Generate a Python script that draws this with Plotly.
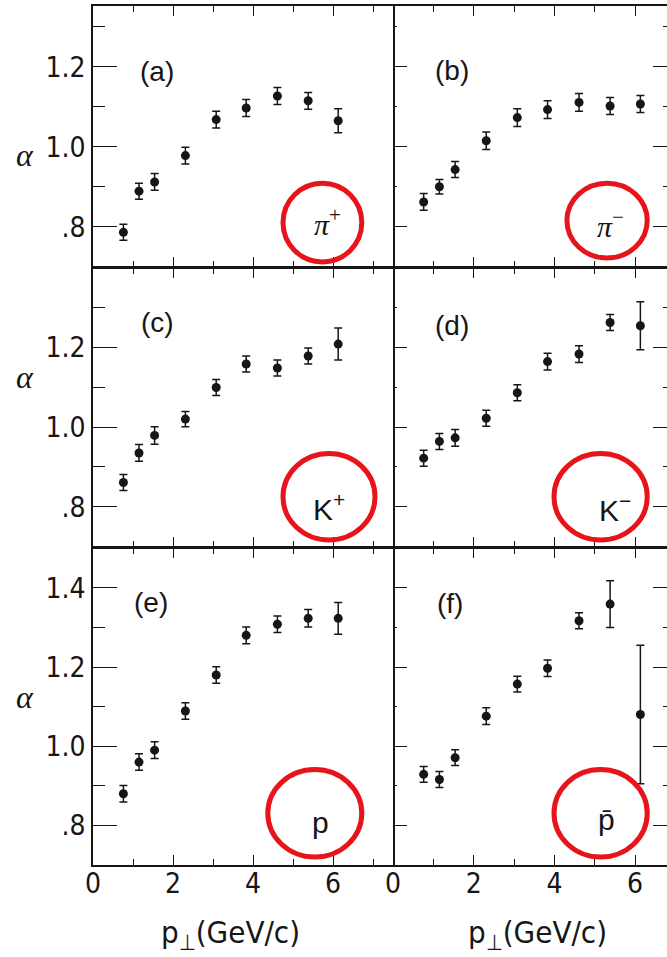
import plotly.graph_objects as go

# ---------------- data ----------------
pt = [0.76, 1.15, 1.54, 2.31, 3.08, 3.83, 4.61, 5.38, 6.13]

alpha_pip = [0.786, 0.889, 0.912, 0.978, 1.068, 1.097, 1.127, 1.115, 1.065]
err_pip = [0.020, 0.020, 0.021, 0.021, 0.021, 0.021, 0.021, 0.021, 0.030]

alpha_pim = [0.862, 0.900, 0.943, 1.015, 1.073, 1.093, 1.111, 1.102, 1.107]
err_pim = [0.021, 0.018, 0.020, 0.022, 0.022, 0.022, 0.022, 0.021, 0.021]

alpha_kp = [0.861, 0.935, 0.979, 1.020, 1.099, 1.158, 1.148, 1.178, 1.208]
err_kp = [0.020, 0.021, 0.022, 0.019, 0.020, 0.020, 0.020, 0.020, 0.040]

alpha_km = [0.922, 0.964, 0.973, 1.022, 1.086, 1.164, 1.183, 1.262, 1.254]
err_km = [0.020, 0.020, 0.021, 0.020, 0.020, 0.021, 0.021, 0.020, 0.060]

alpha_p = [0.880, 0.960, 0.990, 1.089, 1.180, 1.280, 1.308, 1.323, 1.323]
err_p = [0.021, 0.021, 0.021, 0.021, 0.021, 0.021, 0.021, 0.022, 0.040]

alpha_pbar = [0.929, 0.916, 0.971, 1.076, 1.157, 1.197, 1.317, 1.359, 1.080]
err_pbar = [0.020, 0.020, 0.020, 0.021, 0.020, 0.021, 0.020, 0.059, 0.175]

panel_letters = ["(a)", "(b)", "(c)", "(d)", "(e)", "(f)"]
particle_labels = ["<i>π</i><sup>+</sup>", "<i>π</i><sup>−</sup>",
                   "K<sup>+</sup>", "K<sup>−</sup>", "p", "p\u0304"]

x_tickvals = [0, 2, 4, 6]
x_ticktext = ["0", "2", "4", "6"]
x_minor = [1, 3, 5, 7]

y_major_rows = [[0.8, 1.0, 1.2], [0.8, 1.0, 1.2], [0.8, 1.0, 1.2, 1.4]]
y_text_rows = [[".8", "1.0", "1.2"], [".8", "1.0", "1.2"], [".8", "1.0", "1.2", "1.4"]]
y_minor_rows = [[0.9, 1.1, 1.3], [0.9, 1.1, 1.3], [0.9, 1.1, 1.3]]
y_ranges = [[0.70, 1.352], [0.70, 1.398], [0.70, 1.50]]

x_title = "p<sub>⊥</sub>(GeV/c)"
y_title = "<i>α</i>"

# ---------------- layout helpers ----------------
W, H = 667, 957
INK = "#161616"
RED = "#e8141b"
NARROW = "Liberation Sans Narrow, DejaVu Sans Condensed, Arial Narrow, sans-serif"
SANS = "Liberation Sans, DejaVu Sans, sans-serif"
SERIF = "Liberation Serif, DejaVu Serif, serif"
LW = 1.5

def px_x(p):
    return p / W

def px_y(p):
    return 1 - p / H

x_dom = [[px_x(93), px_x(393)], [px_x(393), 1.0]]
x_ranges = [[0, 7.5], [0, 6.79]]
# (top px, bottom px) of each row; neighbouring frames overlap so borders merge
row_edges = [(6, 266.75), (268.25, 546.75), (548.25, 865)]
y_dom = [[px_y(b), px_y(t)] for (t, b) in row_edges]

series = [(alpha_pip, err_pip), (alpha_pim, err_pim),
          (alpha_kp, err_kp), (alpha_km, err_km),
          (alpha_p, err_p), (alpha_pbar, err_pbar)]

letter_pos = [(1.60, 1.188), (1.47, 1.19), (1.60, 1.262), (1.46, 1.254), (1.45, 1.362), (1.41, 1.36)]
circle_box = [(4.75, 6.72, 0.712, 0.909), (4.31, 6.30, 0.722, 0.909),
              (4.75, 7.05, 0.717, 0.934), (3.99, 6.30, 0.717, 0.934),
              (4.37, 6.72, 0.720, 0.941), (3.99, 6.30, 0.720, 0.941)]
particle_pos = [(5.85, 0.812), (5.40, 0.808), (5.90, 0.800), (5.50, 0.797), (5.68, 0.808), (5.28, 0.815)]
alpha_frac = [0.43, 0.61, 0.53]

fig = go.Figure()
layout = dict(width=W, height=H, margin=dict(l=0, r=0, t=0, b=0, autoexpand=False),
              paper_bgcolor="white", plot_bgcolor="white", showlegend=False)
shapes = []
annotations = []

for i, (vals, errs) in enumerate(series):
    row, col = divmod(i, 2)
    n = i + 1
    xa = "x" if n == 1 else f"x{n}"
    ya = "y" if n == 1 else f"y{n}"
    xkey = "xaxis" if n == 1 else f"xaxis{n}"
    ykey = "yaxis" if n == 1 else f"yaxis{n}"
    fig.add_trace(go.Scatter(
        x=pt, y=vals, xaxis=xa, yaxis=ya, mode="markers",
        marker=dict(color=INK, size=9, symbol="circle"),
        error_y=dict(type="data", array=errs, visible=True, color=INK,
                     thickness=1.5, width=4),
        cliponaxis=False))
    bottom = row == 2
    layout[xkey] = dict(
        domain=x_dom[col], range=x_ranges[col], anchor=ya, automargin=False,
        showline=True, linecolor=INK, linewidth=LW, mirror="ticks",
        ticks="inside", ticklen=10, tickwidth=1.4, tickcolor=INK,
        tickmode="array", tickvals=x_tickvals, ticktext=x_ticktext,
        showticklabels=bottom, ticklabelstandoff=-7,
        tickfont=dict(family=NARROW, size=28, color=INK),
        minor=dict(ticks="inside", ticklen=6, tickwidth=1.2, tickcolor=INK,
                   tickmode="array", tickvals=x_minor),
        showgrid=False, zeroline=False, fixedrange=True)
    yl = dict(
        domain=y_dom[row], range=y_ranges[row], anchor=xa, automargin=False,
        tickmode="array", tickvals=y_major_rows[row], ticktext=y_text_rows[row],
        ticks="inside", tickcolor=INK, tickwidth=1.4,
        tickfont=dict(family=NARROW, size=28, color=INK),
        showgrid=False, zeroline=False, fixedrange=True)
    if col == 0:
        yl.update(showline=True, linecolor=INK, linewidth=LW, mirror=True,
                  ticklen=24, showticklabels=True,
                  minor=dict(ticks="inside", ticklen=12, tickwidth=1.2, tickcolor=INK,
                             tickmode="array", tickvals=y_minor_rows[row]))
    else:
        yl.update(showline=False, mirror="ticks", ticklen=14, showticklabels=False,
                  minor=dict(ticks="inside", ticklen=4, tickwidth=1.2, tickcolor=INK,
                             tickmode="array", tickvals=y_minor_rows[row]))
    layout[ykey] = yl

    lx, ly = letter_pos[i]
    annotations.append(dict(x=lx, y=ly, xref=xa, yref=ya, text=panel_letters[i],
                            xanchor="center", yanchor="middle",
                            showarrow=False, font=dict(family=SANS, size=28, color=INK)))
    cx0, cx1, cy0, cy1 = circle_box[i]
    shapes.append(dict(type="circle", xref=xa, yref=ya, x0=cx0, x1=cx1, y0=cy0, y1=cy1,
                       line=dict(color=RED, width=5)))
    qx, qy = particle_pos[i]
    fam = SERIF if i < 2 else SANS
    annotations.append(dict(x=qx, y=qy, xref=xa, yref=ya, text=particle_labels[i],
                            xanchor="center", yanchor="middle",
                            showarrow=False, font=dict(family=fam, size=30, color=INK)))

    if col == 0:
        annotations.append(dict(x=px_x(25), y=alpha_frac[row], xref="paper",
                                yref=f"{ya} domain", text=y_title, showarrow=False,
                                xanchor="center", yanchor="middle",
                                font=dict(family=SERIF, size=32, color=INK)))
    if bottom:
        annotations.append(dict(x=3.43 if col == 0 else 3.59, y=px_y(934), xref=xa, yref="paper",
                                text=x_title, showarrow=False,
                                xanchor="center", yanchor="middle",
                                font=dict(family=NARROW, size=31, color=INK)))

for row in range(3):
    n_left = 2 * row + 1
    xa = "x" if n_left == 1 else f"x{n_left}"
    ya = "y" if n_left == 1 else f"y{n_left}"
    key = f"yaxis{7 + row}"
    layout[key] = dict(overlaying=ya, anchor=xa, side="right", range=y_ranges[row],
                       tickmode="array", tickvals=y_major_rows[row],
                       ticks="inside", ticklen=10, tickwidth=1.4, tickcolor=INK,
                       minor=dict(ticks="inside", ticklen=5, tickwidth=1.2, tickcolor=INK,
                                  tickmode="array", tickvals=y_minor_rows[row]),
                       showticklabels=False, showline=False, showgrid=False,
                       zeroline=False, fixedrange=True, automargin=False)

layout["shapes"] = shapes
layout["annotations"] = annotations
fig.update_layout(**layout)
fig.write_html("out.html", config={"displayModeBar": False},
               post_script="document.body.style.margin='0';document.body.style.padding='0';")
